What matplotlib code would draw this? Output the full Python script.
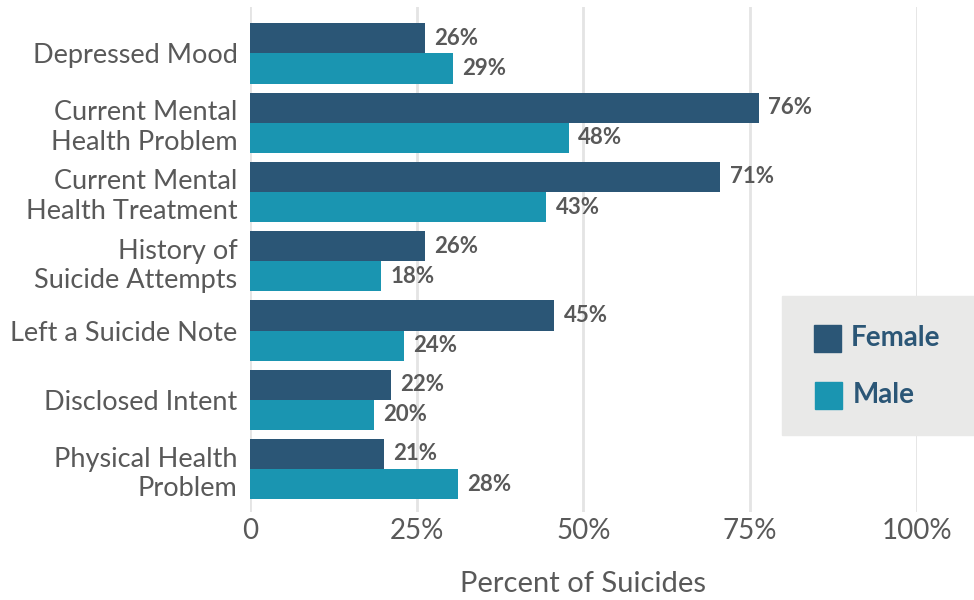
import matplotlib.pyplot as plt
import numpy as np

categories = ['Depressed Mood', 'Current Mental\nHealth Problem', 'Current Mental\nHealth Treatment',
              'History of\nSuicide Attempts', 'Left a Suicide Note', 'Disclosed Intent',
              'Physical Health\nProblem']
female = [26.2, 76.3, 70.5, 26.2, 45.6, 21.1, 20.1]
male = [30.4, 47.8, 44.4, 19.6, 23.1, 18.6, 31.2]
female_labels = ['26%', '76%', '71%', '26%', '45%', '22%', '21%']
male_labels = ['29%', '48%', '43%', '18%', '24%', '20%', '28%']
ticks = [0, 25, 50, 75, 100]
tick_labels = ['0', '25%', '50%', '75%', '100%']

c_female = '#2B5676'
c_male = '#1A95B1'
c_text = '#595959'

plt.rcParams['font.family'] = ['Lato', 'DejaVu Sans']

fig = plt.figure(figsize=(9.74, 6), dpi=100)
ax = fig.add_axes([250 / 974, 88 / 600, 667 / 974, 505 / 600])

y = np.arange(len(categories))
h = 0.435
ax.barh(y - h / 2, female, height=h, color=c_female, zorder=3)
ax.barh(y + h / 2, male, height=h, color=c_male, zorder=3)

for i in range(len(categories)):
    ax.text(female[i] + 1.4, y[i] - h / 2, female_labels[i], va='center', ha='left',
            fontsize=16, fontweight='bold', color=c_text)
    ax.text(male[i] + 1.4, y[i] + h / 2, male_labels[i], va='center', ha='left',
            fontsize=16, fontweight='bold', color=c_text)

ax.set_xlim(0, 100)
ax.set_ylim(6.62, -0.67)
ax.set_xticks(ticks)
ax.set_xticklabels(tick_labels, fontsize=20, color=c_text)
ax.set_yticks(y)
ax.set_yticklabels(categories, fontsize=19.5, color=c_text, linespacing=1.22)
ax.tick_params(axis='both', length=0)
ax.tick_params(axis='y', pad=9)
ax.tick_params(axis='x', pad=4)
ax.grid(axis='x', color='#E4E4E4', linewidth=2, zorder=0)
for s in ax.spines.values():
    s.set_visible(False)

ax.set_xlabel('Percent of Suicides', fontsize=21, color=c_text, labelpad=20)

# legend box
fig.patches.append(plt.Rectangle((782 / 974, 1 - 435 / 600), 192 / 974, 139 / 600,
                                 transform=fig.transFigure, color='#E9E9E8', zorder=5))
fig.patches.append(plt.Rectangle((814 / 974, 1 - 352 / 600), 27 / 974, 27 / 600,
                                 transform=fig.transFigure, color=c_female, zorder=6))
fig.patches.append(plt.Rectangle((815 / 974, 1 - 409 / 600), 27 / 974, 27 / 600,
                                 transform=fig.transFigure, color=c_male, zorder=6))
fig.text(851 / 974, 1 - 338 / 600, 'Female', fontsize=20, fontweight='bold', color=c_female,
         va='center', ha='left', zorder=7)
fig.text(853 / 974, 1 - 395 / 600, 'Male', fontsize=20, fontweight='bold', color=c_female,
         va='center', ha='left', zorder=7)

fig.savefig('out.png', dpi=100)
